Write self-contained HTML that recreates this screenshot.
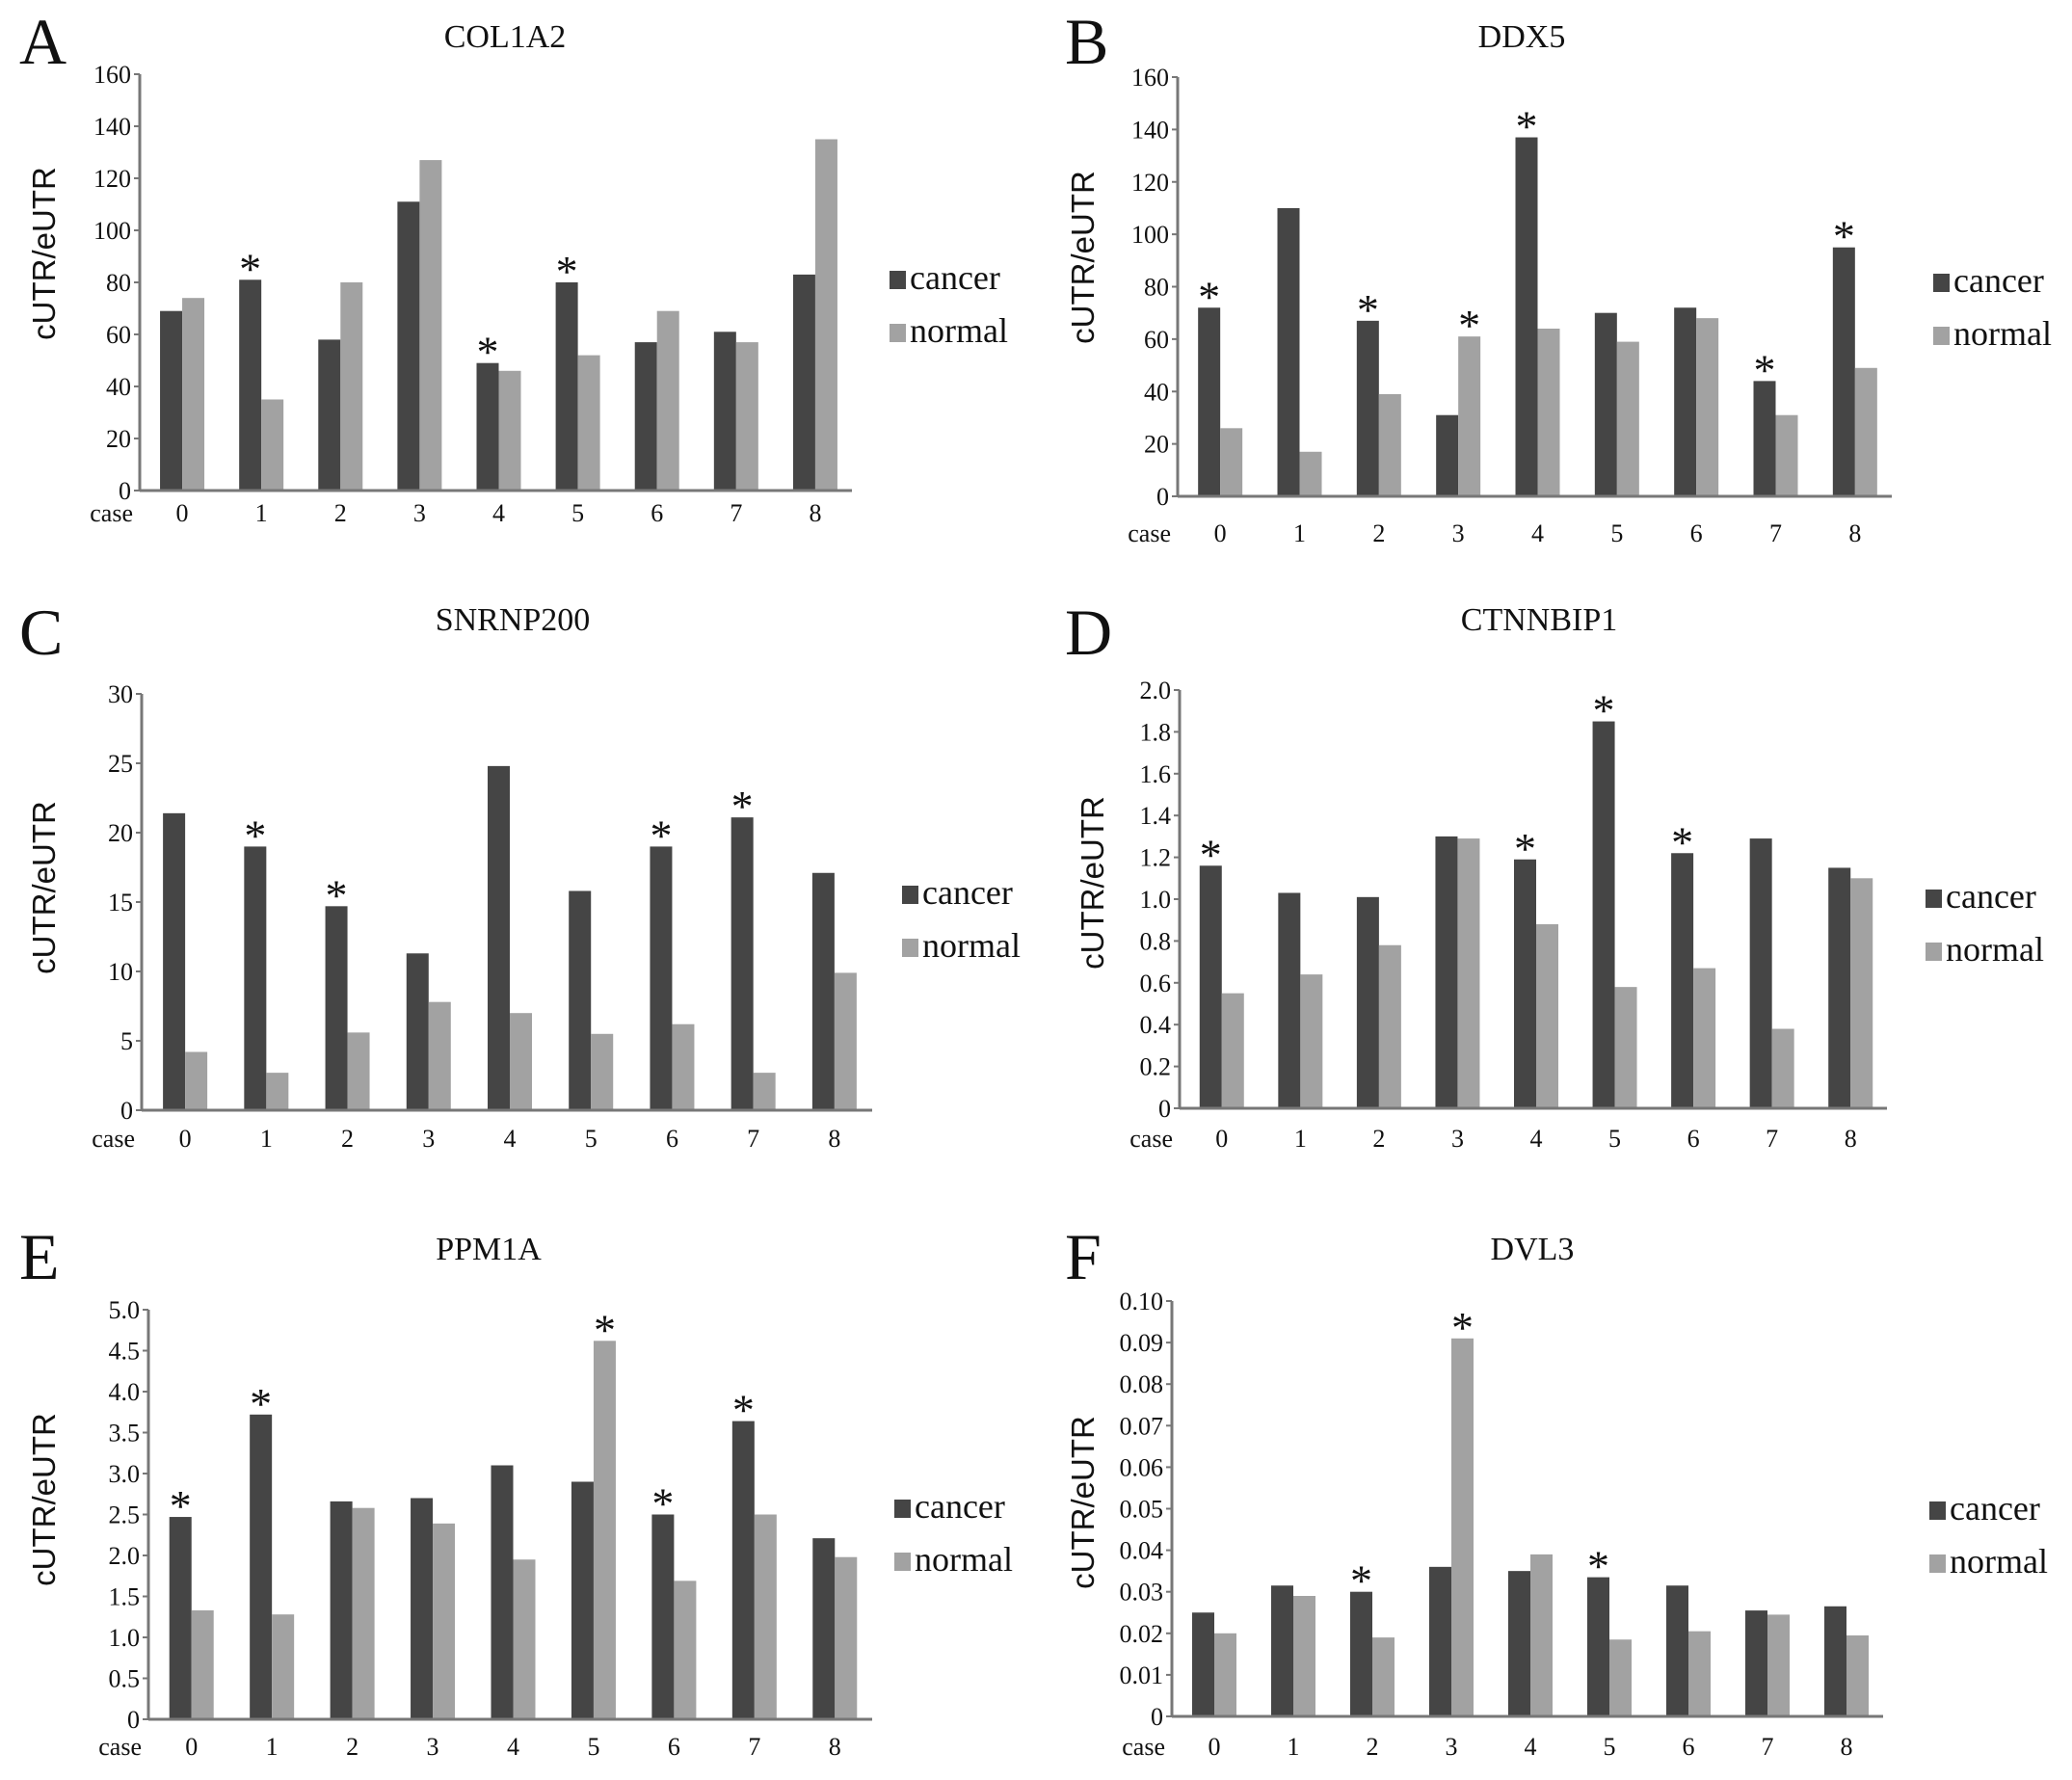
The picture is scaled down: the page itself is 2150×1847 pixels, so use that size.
<!DOCTYPE html>
<html><head><meta charset="utf-8">
<style>
html,body{margin:0;padding:0;background:#fff;}
svg{display:block;}
text{font-family:"Liberation Serif",serif;fill:#111;}
.yt{font-family:"Liberation Sans",sans-serif;}
</style></head>
<body>
<svg id="fig" width="2150" height="1847" viewBox="0 0 2150 1847" xmlns="http://www.w3.org/2000/svg"></svg>
<script>
// ---- data ----
const categories = ["0","1","2","3","4","5","6","7","8"];
const colCancer = [69,81,58,111,49,80,57,61,83];
const colNormal = [74,35,80,127,46,52,69,57,135];
const colStars = [1,4,5];
const colTicks = ["0","20","40","60","80","100","120","140","160"];
const ddxCancer = [72,110,67,31,137,70,72,44,95];
const ddxNormal = [26,17,39,61,64,59,68,31,49];
const ddxStars = [0,2,3,4,7,8];
const ddxTicks = ["0","20","40","60","80","100","120","140","160"];
const snrCancer = [21.4,19.0,14.7,11.3,24.8,15.8,19.0,21.1,17.1];
const snrNormal = [4.2,2.7,5.6,7.8,7.0,5.5,6.2,2.7,9.9];
const snrStars = [1,2,6,7];
const snrTicks = ["0","5","10","15","20","25","30"];
const ctnCancer = [1.16,1.03,1.01,1.30,1.19,1.85,1.22,1.29,1.15];
const ctnNormal = [0.55,0.64,0.78,1.29,0.88,0.58,0.67,0.38,1.10];
const ctnStars = [0,4,5,6];
const ctnTicks = ["0","0.2","0.4","0.6","0.8","1.0","1.2","1.4","1.6","1.8","2.0"];
const ppmCancer = [2.47,3.72,2.66,2.70,3.10,2.90,2.50,3.64,2.21];
const ppmNormal = [1.33,1.28,2.58,2.39,1.95,4.62,1.69,2.50,1.98];
const ppmStars = [0,1,5,6,7];
const ppmTicks = ["0","0.5","1.0","1.5","2.0","2.5","3.0","3.5","4.0","4.5","5.0"];
const dvlCancer = [0.025,0.0315,0.030,0.036,0.035,0.0335,0.0315,0.0255,0.0265];
const dvlNormal = [0.020,0.029,0.019,0.091,0.039,0.0185,0.0205,0.0245,0.0195];
const dvlStars = [2,3,5];
const dvlTicks = ["0","0.01","0.02","0.03","0.04","0.05","0.06","0.07","0.08","0.09","0.10"];

// ---- layout ----
const panels = [
 {id:"a",letter:"A",title:"COL1A2",c:colCancer,n:colNormal,s:colStars,t:colTicks,x0:145,x1:884,yTop:77,y0:509,base:541,lx:20,lb:66,tb:49,tx:524,ytx:46,yty:263,legX:923,legY:281},
 {id:"b",letter:"B",title:"DDX5",c:ddxCancer,n:ddxNormal,s:ddxStars,t:ddxTicks,x0:1222,x1:1963,yTop:80,y0:515,base:562,lx:1105,lb:66,tb:49,tx:1579,ytx:1124,yty:267,legX:2006,legY:284},
 {id:"c",letter:"C",title:"SNRNP200",c:snrCancer,n:snrNormal,s:snrStars,t:snrTicks,x0:147,x1:905,yTop:720,y0:1152,base:1190,lx:20,lb:679,tb:654,tx:532,ytx:46,yty:921,legX:936,legY:919},
 {id:"d",letter:"D",title:"CTNNBIP1",c:ctnCancer,n:ctnNormal,s:ctnStars,t:ctnTicks,x0:1224,x1:1958,yTop:716,y0:1150,base:1190,lx:1105,lb:679,tb:654,tx:1597,ytx:1134,yty:916,legX:1998,legY:923},
 {id:"e",letter:"E",title:"PPM1A",c:ppmCancer,n:ppmNormal,s:ppmStars,t:ppmTicks,x0:154,x1:905,yTop:1359,y0:1784,base:1821,lx:20,lb:1327,tb:1307,tx:507,ytx:46,yty:1556,legX:928,legY:1556},
 {id:"f",letter:"F",title:"DVL3",c:dvlCancer,n:dvlNormal,s:dvlStars,t:dvlTicks,x0:1216,x1:1954,yTop:1350,y0:1781,base:1821,lx:1105,lb:1327,tb:1307,tx:1590,ytx:1124,yty:1559,legX:2002,legY:1558}
];
const NS="http://www.w3.org/2000/svg";
const svg=document.getElementById("fig");
function mk(tag,attrs,parent,txt){const e=document.createElementNS(NS,tag);for(const k in attrs)e.setAttribute(k,attrs[k]);if(txt!==undefined)e.textContent=txt;parent.appendChild(e);return e;}
panels.forEach(p=>{
  const g=mk("g",{},svg);
  
  
  const ymax=parseFloat(p.t[p.t.length-1]);
  const yS=v=>p.y0-(v/ymax)*(p.y0-p.yTop);
  const band=(p.x1-p.x0)/categories.length;
  const xC=i=>p.x0+band*(i+0.5)+3;
  const bw=23;
  const L=mk("text",{x:p.lx,y:p.lb,"font-size":68},g,p.letter);
  
  
  const T=mk("text",{x:p.tx,y:p.tb,"font-size":34,"text-anchor":"middle"},g,p.title);
  
  
  const YT=mk("text",{class:"yt",x:0,y:0,"font-size":33,"text-anchor":"middle",transform:`translate(${p.ytx+11},${p.yty}) rotate(-90)`},g,"cUTR/eUTR");
  
  
  p.t.forEach(lbl=>{
    const v=parseFloat(lbl);const y=yS(v);
    mk("line",{x1:p.x0-6,x2:p.x0,y1:y,y2:y,stroke:"#777","stroke-width":2},g);
    const tt=mk("text",{x:p.x0-9,y:y+9,"font-size":26,"text-anchor":"end"},g,lbl);
    
    
  });
  categories.forEach((c,i)=>{
    const xc=xC(i);
    const rc=mk("rect",{x:xc-bw,y:yS(p.c[i]),width:bw,height:p.y0-yS(p.c[i]),fill:"#454545"},g);
    
    
    const rn=mk("rect",{x:xc,y:yS(p.n[i]),width:bw,height:p.y0-yS(p.n[i]),fill:"#a2a2a2"},g);
    
    
    const cl=mk("text",{x:xc,y:p.base,"font-size":26,"text-anchor":"middle"},g,c);
    
    
  });
  p.s.forEach(i=>{
    const useN=p.n[i]>p.c[i]*1.3;
    const v=Math.max(p.c[i],p.n[i]);
    const sx=useN?xC(i)+bw/2:xC(i)-bw/2;
    const st=mk("text",{x:sx,y:yS(v)+4,"font-size":46,"text-anchor":"middle"},g,"*");
    
    
  });
  mk("line",{x1:p.x0,x2:p.x0,y1:p.yTop,y2:p.y0,stroke:"#777","stroke-width":3},g);
  const ax=mk("line",{x1:p.x0,x2:p.x1,y1:p.y0,y2:p.y0,stroke:"#777","stroke-width":3},g);
  
  
  const cs=mk("text",{x:p.x0-7,y:p.base,"font-size":26,"text-anchor":"end"},g,"case");
  
  
  [["cancer","#454545",0],["normal","#a2a2a2",55]].forEach(([nm,col,dy])=>{
    const lg=mk("g",{},g);
    
    
    mk("rect",{x:p.legX,y:p.legY+dy,width:17,height:19,fill:col},lg);
    mk("text",{x:p.legX+21,y:p.legY+dy+19,"font-size":36},lg,nm);
  });
});
</script>
</body></html>
